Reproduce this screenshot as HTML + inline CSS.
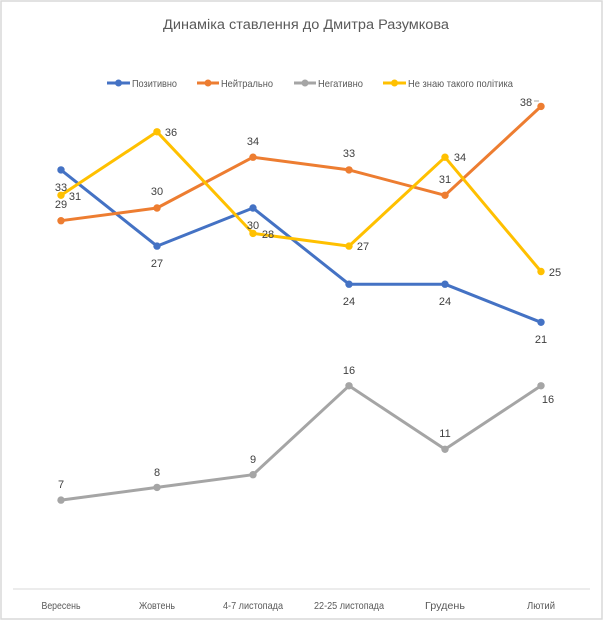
<!DOCTYPE html>
<html>
<head>
<meta charset="utf-8">
<style>
  html, body { margin: 0; padding: 0; background: #ffffff; }
  body { width: 609px; height: 630px; overflow: hidden; }
  svg { display: block; }
  text { font-family: "Liberation Sans", "DejaVu Sans", sans-serif; }
</style>
</head>
<body>
<svg width="609" height="630" viewBox="0 0 609 630" xmlns="http://www.w3.org/2000/svg">
  <rect x="0" y="0" width="609" height="630" fill="#ffffff"/>
  <rect x="1" y="1" width="601" height="618" fill="#ffffff" stroke="#d9d9d9" stroke-width="1.5"/>

  <!-- Title -->
  <text x="306" y="29" text-anchor="middle" font-size="13.5" fill="#595959" textLength="286" lengthAdjust="spacingAndGlyphs">Динаміка ставлення до Дмитра Разумкова</text>

  <!-- Legend -->
  <g stroke-width="3">
    <line x1="107" y1="83" x2="130" y2="83" stroke="#4472C4"/>
    <circle cx="118.5" cy="83" r="3.5" fill="#4472C4" stroke="none"/>
    <line x1="197" y1="83" x2="219" y2="83" stroke="#ED7D31"/>
    <circle cx="208" cy="83" r="3.5" fill="#ED7D31" stroke="none"/>
    <line x1="294" y1="83" x2="316" y2="83" stroke="#A5A5A5"/>
    <circle cx="305" cy="83" r="3.5" fill="#A5A5A5" stroke="none"/>
    <line x1="383" y1="83" x2="406" y2="83" stroke="#FFC000"/>
    <circle cx="394.5" cy="83" r="3.5" fill="#FFC000" stroke="none"/>
  </g>
  <g font-size="10.5" fill="#595959">
    <text x="132" y="87" textLength="45" lengthAdjust="spacingAndGlyphs">Позитивно</text>
    <text x="221" y="87" textLength="52" lengthAdjust="spacingAndGlyphs">Нейтрально</text>
    <text x="318" y="87" textLength="45" lengthAdjust="spacingAndGlyphs">Негативно</text>
    <text x="408" y="87" textLength="105" lengthAdjust="spacingAndGlyphs">Не знаю такого політика</text>
  </g>

  <!-- Axis line -->
  <line x1="13" y1="589" x2="590" y2="589" stroke="#d9d9d9" stroke-width="1"/>

  <!-- Category labels -->
  <g font-size="10.5" fill="#595959" text-anchor="middle">
    <text x="61" y="609" textLength="39" lengthAdjust="spacingAndGlyphs">Вересень</text>
    <text x="157" y="609" textLength="36" lengthAdjust="spacingAndGlyphs">Жовтень</text>
    <text x="253" y="609" textLength="60" lengthAdjust="spacingAndGlyphs">4-7 листопада</text>
    <text x="349" y="609" textLength="70" lengthAdjust="spacingAndGlyphs">22-25 листопада</text>
    <text x="445" y="609" textLength="40" lengthAdjust="spacingAndGlyphs">Грудень</text>
    <text x="541" y="609" textLength="28" lengthAdjust="spacingAndGlyphs">Лютий</text>
  </g>

  <!-- Series: Позитивно -->
  <polyline fill="none" stroke="#4472C4" stroke-width="3" stroke-linejoin="round"
    points="61,169.9 157,246.1 253,208 349,284.2 445,284.2 541,322.3"/>
  <g fill="#4472C4">
    <circle cx="61" cy="169.9" r="3.7"/><circle cx="157" cy="246.1" r="3.7"/>
    <circle cx="253" cy="208" r="3.7"/><circle cx="349" cy="284.2" r="3.7"/>
    <circle cx="445" cy="284.2" r="3.7"/><circle cx="541" cy="322.3" r="3.7"/>
  </g>

  <!-- Series: Нейтрально -->
  <polyline fill="none" stroke="#ED7D31" stroke-width="3" stroke-linejoin="round"
    points="61,220.7 157,208 253,157.2 349,169.9 445,195.3 541,106.4"/>
  <g fill="#ED7D31">
    <circle cx="61" cy="220.7" r="3.7"/><circle cx="157" cy="208" r="3.7"/>
    <circle cx="253" cy="157.2" r="3.7"/><circle cx="349" cy="169.9" r="3.7"/>
    <circle cx="445" cy="195.3" r="3.7"/><circle cx="541" cy="106.4" r="3.7"/>
  </g>

  <!-- Series: Негативно -->
  <polyline fill="none" stroke="#A5A5A5" stroke-width="3" stroke-linejoin="round"
    points="61,500.1 157,487.4 253,474.7 349,385.8 445,449.3 541,385.8"/>
  <g fill="#A5A5A5">
    <circle cx="61" cy="500.1" r="3.7"/><circle cx="157" cy="487.4" r="3.7"/>
    <circle cx="253" cy="474.7" r="3.7"/><circle cx="349" cy="385.8" r="3.7"/>
    <circle cx="445" cy="449.3" r="3.7"/><circle cx="541" cy="385.8" r="3.7"/>
  </g>

  <!-- Series: Не знаю -->
  <polyline fill="none" stroke="#FFC000" stroke-width="3" stroke-linejoin="round"
    points="61,195.3 157,131.8 253,233.4 349,246.1 445,157.2 541,271.5"/>
  <g fill="#FFC000">
    <circle cx="61" cy="195.3" r="3.7"/><circle cx="157" cy="131.8" r="3.7"/>
    <circle cx="253" cy="233.4" r="3.7"/><circle cx="349" cy="246.1" r="3.7"/>
    <circle cx="445" cy="157.2" r="3.7"/><circle cx="541" cy="271.5" r="3.7"/>
  </g>

  <!-- Data labels -->
  <g font-size="11" fill="#404040" text-anchor="middle">
    <!-- Позитивно -->
    <text x="61" y="191">33</text>
    <text x="157" y="267">27</text>
    <text x="253" y="229">30</text>
    <text x="349" y="305">24</text>
    <text x="445" y="305">24</text>
    <text x="541" y="343">21</text>
    <!-- Нейтрально -->
    <text x="61" y="208">29</text>
    <text x="157" y="195">30</text>
    <text x="253" y="145">34</text>
    <text x="349" y="157">33</text>
    <text x="445" y="183">31</text>
    <text x="526" y="106">38</text>
    <!-- Негативно -->
    <text x="61" y="488">7</text>
    <text x="157" y="476">8</text>
    <text x="253" y="463">9</text>
    <text x="349" y="374">16</text>
    <text x="445" y="437">11</text>
    <text x="548" y="403">16</text>
    <!-- Не знаю -->
    <text x="75" y="200">31</text>
    <text x="171" y="136">36</text>
    <text x="268" y="238">28</text>
    <text x="363" y="250">27</text>
    <text x="460" y="161">34</text>
    <text x="555" y="276">25</text>
  </g>
  <line x1="534" y1="101" x2="539" y2="101" stroke="#a6a6a6" stroke-width="1"/>
</svg>
</body>
</html>
